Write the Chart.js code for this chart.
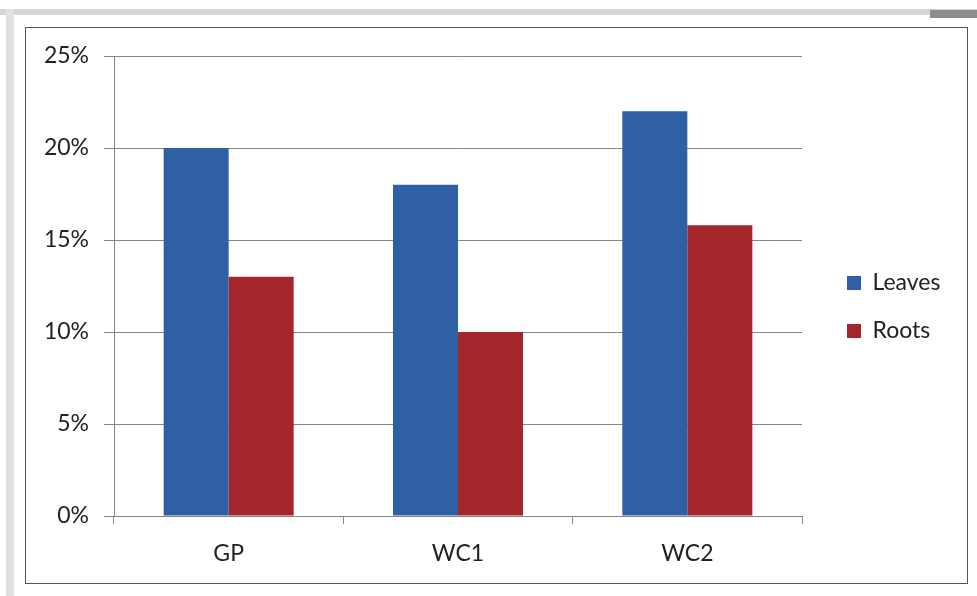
<!DOCTYPE html>
<html>
<head>
<meta charset="utf-8">
<script src="https://cdn.jsdelivr.net/npm/chart.js@4.4.1/dist/chart.umd.min.js"></script>
<style>
  html, body { margin: 0; padding: 0; background: #fff; }
  #wrap { position: relative; width: 977px; height: 596px; overflow: hidden; }
  #scanTop { position: absolute; left: 0; top: 9px; width: 977px; height: 6px; background: #d6d6d6; }
  #scanEdge { position: absolute; left: 930px; top: 10px; width: 47px; height: 8px; background: #8c8c8c; }
  #scanLeft { position: absolute; left: 6px; top: 9px; width: 8px; height: 587px; background: #e0e0e0; }
  #frame { position: absolute; left: 25px; top: 27px; width: 941px; height: 555px; border: 1.5px solid #555; background: #fff; }
  #chart { position: absolute; left: 0; top: 0; }
</style>
</head>
<body>
<div id="wrap">
  <div id="scanTop"></div>
  <div id="scanEdge"></div>
  <div id="scanLeft"></div>
  <div id="frame"></div>
  <canvas id="chart" width="977" height="596"></canvas>
</div>
<script>
const categories = ['GP', 'WC1', 'WC2'];
const leaves = [20, 18, 22];
const roots = [13, 10, 15.8];
const yTicks = [0, 5, 10, 15, 20, 25];

const chartElement = document.getElementById('chart');
const ctx = chartElement.getContext('2d');
const gridColor = '#858585';
const font = { family: 'Lato, "Liberation Sans", sans-serif', size: 23 };
const padRight = 20;

const chart = new Chart(ctx, {
    type: 'bar',
    data: {
        labels: categories,
        datasets: [
            { label: 'Leaves', data: leaves, backgroundColor: '#2f5fa5' },
            { label: 'Roots', data: roots, backgroundColor: '#a4262b' }
        ]
    },
    options: {
        responsive: false,
        animation: false,
        datasets: { bar: { categoryPercentage: 0.567, barPercentage: 1 } },
        layout: { padding: { top: 56, left: 0, bottom: 0, right: padRight } },
        plugins: {
            tooltip: { enabled: false },
            legend: {
                position: 'right',
                labels: {
                    boxWidth: 14,
                    boxHeight: 14,
                    padding: 25,
                    color: '#222',
                    font: font
                }
            }
        },
        scales: {
            x: {
                afterFit: scale => { scale.height = 80; },
                grid: { offset: true, drawOnChartArea: false, drawTicks: true, tickLength: 8, color: gridColor },
                border: { display: true, color: gridColor, width: 1 },
                ticks: { color: '#222', font: font, padding: 16 }
            },
            y: {
                min: 0,
                max: 25,
                afterFit: scale => { scale.width = 114; },
                afterBuildTicks: scale => { scale.ticks = yTicks.map(v => ({ value: v })); },
                grid: { color: gridColor, tickLength: 10 },
                border: { display: true, color: gridColor, width: 1 },
                ticks: { color: '#222', font: font, padding: 15, callback: v => v + '%' }
            }
        }
    }
});

// legend sits right of the plot, a bit detached from it
const legend = chart.legend;
const legendFit = legend.fit;
legend.fit = function () {
    legendFit.call(this);
    this.width = 977 - 802 - padRight;
};
const legendDraw = legend.draw;
legend.draw = function () {
    ctx.save();
    ctx.translate(20, -19);
    legendDraw.call(this);
    ctx.restore();
};
chart.update();
</script>
</body>
</html>
